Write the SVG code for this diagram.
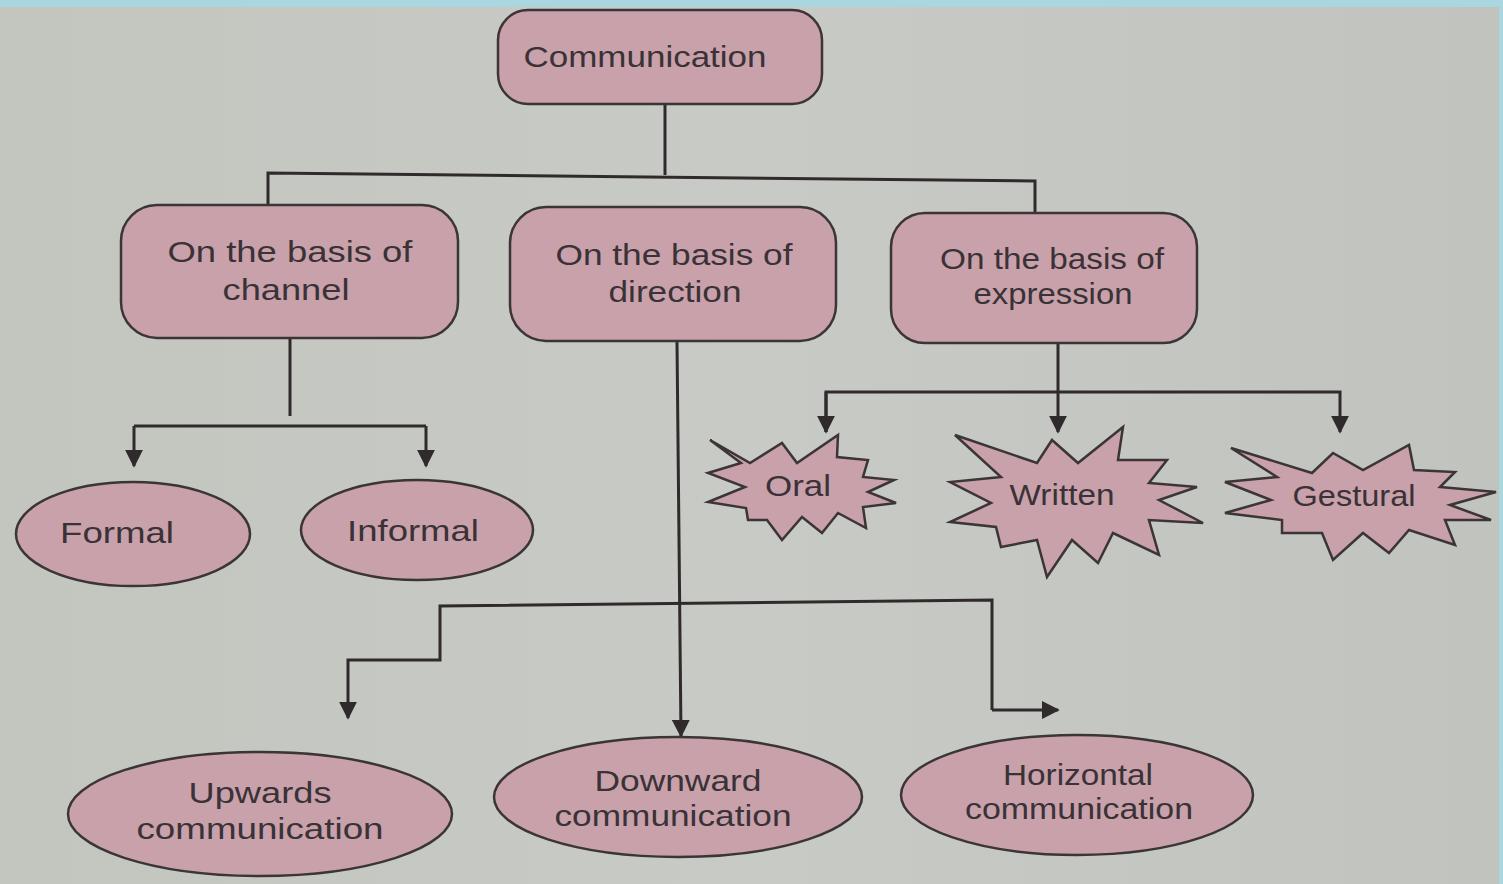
<svg xmlns="http://www.w3.org/2000/svg" width="1503" height="884" viewBox="0 0 1503 884">
<defs>
<linearGradient id="bg" x1="0" y1="0" x2="1" y2="0">
<stop offset="0" stop-color="#c3c5bf"/>
<stop offset="0.5" stop-color="#c8cac5"/>
<stop offset="1" stop-color="#c1c3be"/>
</linearGradient>
<marker id="ah" viewBox="0 0 10 10" refX="9" refY="5" markerWidth="18" markerHeight="18" markerUnits="userSpaceOnUse" orient="auto">
<path d="M0,0 L10,5 L0,10 Z" fill="#2f2b2c"/>
</marker>
<style>
.n{fill:#c8a1ab;stroke:#3b3537;stroke-width:2.5}
.t{font-family:"Liberation Sans",Arial,sans-serif;font-size:30px;fill:#3a3236;text-anchor:middle}
.c{fill:none;stroke:#2f2b2c;stroke-width:3}
</style>
</defs>
<rect x="0" y="0" width="1503" height="884" fill="url(#bg)"/>
<rect x="0" y="0" width="1503" height="7" fill="#a9d6df"/>
<rect x="1499" y="0" width="4" height="884" fill="#a9d6df"/>

<g id="connectors">
<path class="c" d="M665,104 V175"/>
<path class="c" d="M268,207 V173 L1035,181 V214"/>
<path class="c" d="M290,339 V416"/>
<path class="c" d="M134,426 H426"/>
<path class="c" d="M134,426 V466" marker-end="url(#ah)"/>
<path class="c" d="M426,426 V466" marker-end="url(#ah)"/>
<path class="c" d="M677,342 L681,736" marker-end="url(#ah)"/>
<path class="c" d="M992,710 V600 L440,606 V660 H348 V718" marker-end="url(#ah)"/>
<path class="c" d="M992,710 H1058" marker-end="url(#ah)"/>
<path class="c" d="M1058,344 V432" marker-end="url(#ah)"/>
<path class="c" d="M826,432 V392 H1340 V432" marker-end="url(#ah)"/>
<path class="c" d="M826,392 V432" marker-end="url(#ah)"/>
</g>

<g id="communication">
<rect class="n" x="498" y="10" width="324" height="94" rx="30"/>
<text class="t" x="645" y="67" textLength="243" lengthAdjust="spacingAndGlyphs">Communication</text>
</g>

<g id="channel">
<rect class="n" x="121" y="205" width="337" height="133" rx="36"/>
<text class="t" x="290" y="262" textLength="245" lengthAdjust="spacingAndGlyphs">On the basis of</text>
<text class="t" x="286" y="300" textLength="127" lengthAdjust="spacingAndGlyphs">channel</text>
</g>

<g id="direction">
<rect class="n" x="510" y="207" width="326" height="134" rx="36"/>
<text class="t" x="674" y="265" textLength="237" lengthAdjust="spacingAndGlyphs">On the basis of</text>
<text class="t" x="675" y="302" textLength="133" lengthAdjust="spacingAndGlyphs">direction</text>
</g>

<g id="expression">
<rect class="n" x="891" y="213" width="306" height="130" rx="34"/>
<text class="t" x="1052" y="269" textLength="224" lengthAdjust="spacingAndGlyphs">On the basis of</text>
<text class="t" x="1053" y="304" textLength="159" lengthAdjust="spacingAndGlyphs">expression</text>
</g>

<g id="formal">
<ellipse class="n" cx="133" cy="534" rx="117" ry="52"/>
<text class="t" x="117" y="543" textLength="114" lengthAdjust="spacingAndGlyphs">Formal</text>
</g>

<g id="informal">
<ellipse class="n" cx="417" cy="530" rx="116" ry="50"/>
<text class="t" x="413" y="541" textLength="132" lengthAdjust="spacingAndGlyphs">Informal</text>
</g>

<g id="oral">
<polygon class="n" points="710,440 750,463 782,443 797,463 838,435 837,457 868,460 863,477 894,480 868,492 896,503 863,507 866,528 838,513 822,533 802,517 782,540 767,520 748,520 746,508 708,502 745,487 708,473 741,463"/>
<text class="t" x="798" y="496" font-size="27" textLength="66" lengthAdjust="spacingAndGlyphs">Oral</text>
</g>

<g id="written">
<polygon class="n" points="955,435 1037,463 1052,440 1078,463 1123,427 1118,460 1167,460 1149,483 1197,487 1159,500 1203,523 1149,520 1159,555 1113,533 1098,563 1072,540 1047,577 1037,540 1001,547 996,527 950,522 991,503 950,482 1001,477"/>
<text class="t" x="1062" y="505" font-size="27" textLength="105" lengthAdjust="spacingAndGlyphs">Written</text>
</g>

<g id="gestural">
<polygon class="n" points="1231,448 1312,473 1333,453 1363,470 1409,445 1414,470 1455,472 1440,487 1496,492 1450,505 1491,520 1445,520 1455,545 1409,530 1389,553 1363,533 1333,560 1322,533 1282,533 1282,520 1225,513 1271,500 1225,482 1277,477"/>
<text class="t" x="1354" y="506" font-size="27" textLength="123" lengthAdjust="spacingAndGlyphs">Gestural</text>
</g>

<g id="upwards">
<ellipse class="n" cx="260" cy="814" rx="192" ry="62"/>
<text class="t" x="260" y="803" textLength="143" lengthAdjust="spacingAndGlyphs">Upwards</text>
<text class="t" x="260" y="839" textLength="247" lengthAdjust="spacingAndGlyphs">communication</text>
</g>

<g id="downward">
<ellipse class="n" cx="678" cy="797" rx="184" ry="60"/>
<text class="t" x="678" y="791" textLength="167" lengthAdjust="spacingAndGlyphs">Downward</text>
<text class="t" x="673" y="826" textLength="237" lengthAdjust="spacingAndGlyphs">communication</text>
</g>

<g id="horizontal">
<ellipse class="n" cx="1077" cy="795" rx="176" ry="60"/>
<text class="t" x="1078" y="785" textLength="150" lengthAdjust="spacingAndGlyphs">Horizontal</text>
<text class="t" x="1079" y="819" textLength="228" lengthAdjust="spacingAndGlyphs">communication</text>
</g>
</svg>
